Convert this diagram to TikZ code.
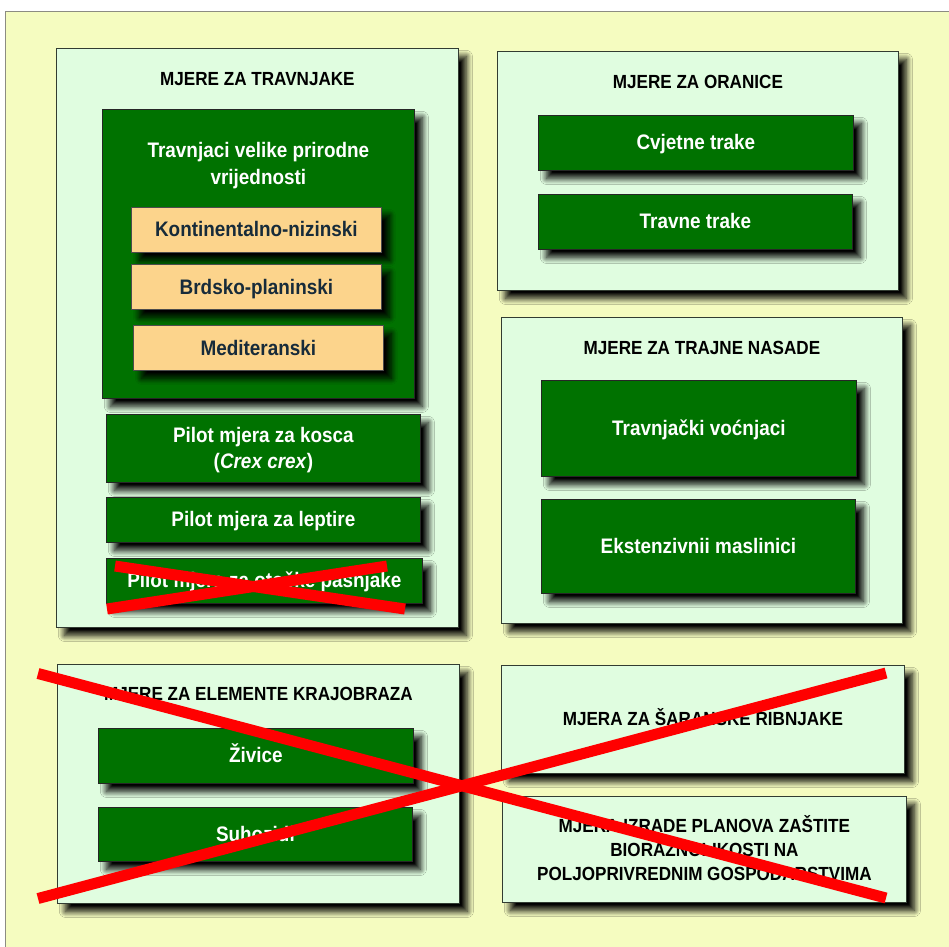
\documentclass[tikz,border=0pt]{standalone}
\usepackage{fontspec}
\setmainfont{Liberation Sans}[FakeStretch=0.9]
\usetikzlibrary{shadows.blur}
\definecolor{bgyellow}{RGB}{245,252,192}
\definecolor{bordergray}{RGB}{140,140,130}
\definecolor{panelgreen}{RGB}{224,253,224}
\definecolor{boxgreen}{RGB}{0,114,0}
\definecolor{boxorange}{RGB}{252,212,140}
\definecolor{navytext}{RGB}{23,43,58}
\definecolor{edgegray}{RGB}{50,60,50}
\begin{document}
\begin{tikzpicture}[x=1pt,y=-1pt,
  shad/.style={blur shadow={shadow xshift=8pt,shadow yshift=-8pt,shadow blur radius=6pt,shadow opacity=100,shadow blur steps=14}},
  panel/.style={draw=edgegray, line width=0.8pt, fill=panelgreen, shad, inner sep=0pt, anchor=north west},
  gbox/.style={draw=black!85, line width=0.8pt, fill=boxgreen, shad, inner sep=0pt, anchor=north west},
  obox/.style={draw=black!70, line width=0.8pt, fill=boxorange, shad, inner sep=0pt, anchor=north west},
  ttl/.style={anchor=base, inner sep=0pt, font=\bfseries\fontsize{19}{23}\selectfont, text=black},
  wtxt/.style={anchor=base, inner sep=0pt, font=\bfseries\fontsize{21}{26}\selectfont, text=white},
  otxt/.style={anchor=base, inner sep=0pt, font=\bfseries\fontsize{21}{26}\selectfont, text=navytext},
  cross/.style={draw=red, line width=11pt}
]
\useasboundingbox (0,0) rectangle (949,946);
\fill[white] (0,0) rectangle (949,946);
\filldraw[fill=bgyellow, draw=bordergray, line width=1pt] (5,11) rectangle (960,960);

% left top panel
\node[panel, minimum width=402pt, minimum height=579pt] (p1) at (56,48) {};
\node[gbox, minimum width=312pt, minimum height=289pt] (i1) at (102,109) {};
\node[obox, minimum width=250pt, minimum height=45pt] (o1) at (131,207) {};
\node[obox, minimum width=250pt, minimum height=45pt] (o2) at (131,264) {};
\node[obox, minimum width=250pt, minimum height=45pt] (o3) at (133,325) {};
\node[gbox, minimum width=314pt, minimum height=68pt] (g1) at (106,414) {};
\node[gbox, minimum width=314pt, minimum height=45pt] (g2) at (106,497) {};
\node[gbox, minimum width=316pt, minimum height=45pt] (g3) at (106,558) {};

% right panels
\node[panel, minimum width=401pt, minimum height=239pt] (p2) at (497,51) {};
\node[gbox, minimum width=315pt, minimum height=55pt] (g4) at (538,115) {};
\node[gbox, minimum width=314pt, minimum height=55pt] (g5) at (538,194) {};
\node[panel, minimum width=401pt, minimum height=306pt] (p3) at (501,317) {};
\node[gbox, minimum width=315pt, minimum height=96pt] (g6) at (541,380) {};
\node[gbox, minimum width=314pt, minimum height=94pt] (g7) at (541,499) {};

% bottom panels
\node[panel, minimum width=402pt, minimum height=239pt] (p4) at (57,664) {};
\node[gbox, minimum width=315pt, minimum height=55pt] (g8) at (98,728) {};
\node[gbox, minimum width=314pt, minimum height=54pt] (g9) at (98,807) {};
\node[panel, minimum width=403pt, minimum height=108pt] (p5) at (501,665) {};
\node[panel, minimum width=404pt, minimum height=106pt] (p6) at (502,796) {};

% texts
\node[ttl] (t1) at (p1.center |- 0,85) {MJERE ZA TRAVNJAKE};
\node[wtxt] (ti1) at (i1.center |- 0,157.3) {Travnjaci velike prirodne};
\node[wtxt] (ti2) at (i1.center |- 0,184) {vrijednosti};
\node[otxt] (to1) at (o1.center |- 0,236.7) {Kontinentalno-nizinski};
\node[otxt] (to2) at (o2.center |- 0,294) {Brdsko-planinski};
\node[otxt] (to3) at (o3.center |- 0,355) {Mediteranski};
\node[wtxt] (tg1a) at (g1.center |- 0,442.3) {Pilot mjera za kosca};
\node[wtxt] (tg1b) at (g1.center |- 0,468.3) {(\textit{Crex crex})};
\node[wtxt] (tg2) at (g2.center |- 0,526.7) {Pilot mjera za leptire};
\node[wtxt] (tg3) at (g3.center |- 0,587.7) {Pilot mjera za otočke pasnjake};

\node[ttl] (t2) at (p2.center |- 0,88) {MJERE ZA ORANICE};
\node[wtxt] (tg4) at (g4.center |- 0,149.5) {Cvjetne trake};
\node[wtxt] (tg5) at (g5.center |- 0,228.3) {Travne trake};
\node[ttl] (t3) at (p3.center |- 0,354) {MJERE ZA TRAJNE NASADE};
\node[wtxt] (tg6) at (g6.center |- 0,435) {Travnjački voćnjaci};
\node[wtxt] (tg7) at (g7.center |- 0,553.3) {Ekstenzivnii maslinici};

\node[ttl] (t4) at (p4.center |- 0,700.7) {MJERE ZA ELEMENTE KRAJOBRAZA};
\node[wtxt] (tg8) at (g8.center |- 0,762.7) {Živice};
\node[wtxt] (tg9) at (g9.center |- 0,841) {Suhozidi};
\node[ttl] (t5) at (p5.center |- 0,725) {MJERA ZA ŠARANSKE RIBNJAKE};
\node[ttl] (t6a) at (p6.center |- 0,832.3) {MJERA IZRADE PLANOVA ZAŠTITE};
\node[ttl] (t6b) at (p6.center |- 0,856.7) {BIORAZNOLIKOSTI NA};
\node[ttl] (t6c) at (p6.center |- 0,880) {POLJOPRIVREDNIM GOSPODARSTVIMA};

% crosses
\coordinate (sa) at (115,566);
\coordinate (sb) at (405,609);
\coordinate (sc) at (107,609);
\coordinate (sd) at (387,566);
\draw[cross] (sa) -- (sb);
\draw[cross] (sc) -- (sd);
\coordinate (ba) at (38,673.5);
\coordinate (bb) at (886,898);
\coordinate (bc) at (38,898.5);
\coordinate (bd) at (886,673);
\draw[cross] (ba) -- (bb);
\draw[cross] (bc) -- (bd);
\end{tikzpicture}
\end{document}
